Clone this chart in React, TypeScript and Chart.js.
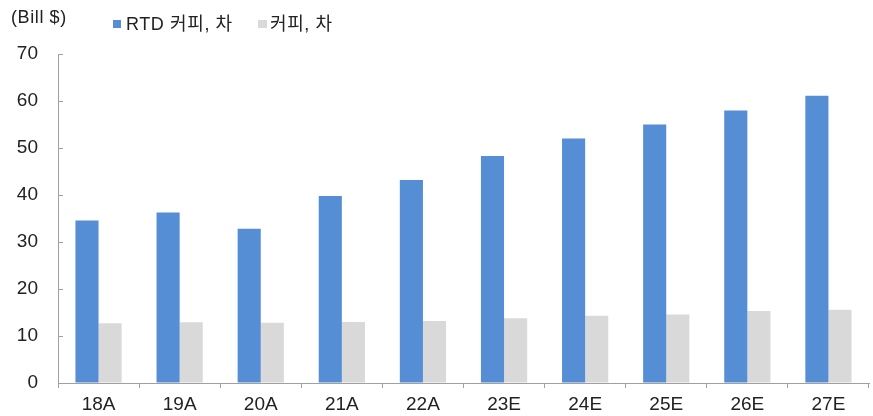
import React, { useEffect, useRef } from "react";
import { Chart, registerables } from "chart.js";

Chart.register(...registerables);

const categories = ["18A", "19A", "20A", "21A", "22A", "23E", "24E", "25E", "26E", "27E"];
const rtdValues = [34.6, 36.3, 32.8, 39.8, 43.2, 48.3, 52.0, 55.0, 58.0, 61.1];
const coffeeValues = [12.7, 12.9, 12.8, 13.0, 13.2, 13.8, 14.3, 14.6, 15.3, 15.6];
const seriesNames = ["RTD 커피, 차", "커피, 차"];
const yTicks = [0, 10, 20, 30, 40, 50, 60, 70];
const unitLabel = "(Bill $)";

const BLUE = "#558ED5";
const GRAY = "#D9D9D9";
const AXIS = "#A0A0A0";
const FONT = "'Liberation Sans', 'Noto Sans CJK KR', Arial, sans-serif";

const innerTicks = {
  id: "innerTicks",
  afterDraw(chart: any) {
    const y = chart.scales.y;
    const ctx = chart.ctx;
    ctx.save();
    ctx.strokeStyle = AXIS;
    ctx.lineWidth = 1;
    for (const v of yTicks) {
      const py = Math.round(y.getPixelForValue(v)) + 0.5;
      ctx.beginPath();
      ctx.moveTo(y.right, py);
      ctx.lineTo(y.right + 5, py);
      ctx.stroke();
    }
    ctx.restore();
  },
};

export default function App() {
  const ref = useRef<HTMLCanvasElement | null>(null);
  useEffect(() => {
    if (!ref.current) return;
    const chart = new Chart(ref.current, {
      type: "bar",
      data: {
        labels: categories,
        datasets: [
          { label: seriesNames[0], data: rtdValues, backgroundColor: BLUE, borderWidth: 0 },
          { label: seriesNames[1], data: coffeeValues, backgroundColor: GRAY, borderWidth: 0 },
        ],
      },
      options: {
        animation: false,
        responsive: false,
        maintainAspectRatio: false,
        layout: { padding: { top: 54, right: 4, bottom: 0, left: 0 } },
        datasets: { bar: { categoryPercentage: 0.57, barPercentage: 1.0 } },
        plugins: { legend: { display: false }, tooltip: { enabled: false }, title: { display: false } },
        scales: {
          x: {
            offset: true,
            grid: { offset: true, drawOnChartArea: false, drawTicks: true, tickLength: 5, color: AXIS },
            border: { color: AXIS, width: 1 },
            ticks: { color: "#222", font: { family: FONT, size: 19 }, padding: 5, maxRotation: 0 },
            afterFit(scale: any) { scale.height = 33; },
          },
          y: {
            min: 0,
            max: 70,
            afterBuildTicks(scale: any) { scale.ticks = yTicks.map((v) => ({ value: v })); },
            grid: { drawOnChartArea: false, drawTicks: false },
            border: { color: AXIS, width: 1 },
            ticks: { color: "#222", font: { family: FONT, size: 19 }, padding: 20 },
            afterFit(scale: any) { scale.width = 58; },
          },
        },
      },
      plugins: [innerTicks],
    });
    return () => chart.destroy();
  }, []);

  const legendText: React.CSSProperties = {
    fontFamily: FONT, fontSize: 18, color: "#222", whiteSpace: "nowrap", letterSpacing: 0.6, lineHeight: "20px",
  };
  return (
    <div style={{ position: "fixed", left: 0, top: 0, width: 873, height: 416, background: "#fff" }}>
      <canvas ref={ref} width={873} height={416} style={{ position: "absolute", left: 0, top: 0 }} />
      <div style={{ ...legendText, position: "absolute", left: 11, top: 7 }}>{unitLabel}</div>
      <span style={{ position: "absolute", left: 113, top: 20, width: 8, height: 8, background: BLUE }} />
      <div style={{ ...legendText, position: "absolute", left: 126, top: 14 }}>{seriesNames[0]}</div>
      <span style={{ position: "absolute", left: 258, top: 20, width: 9, height: 8, background: GRAY }} />
      <div style={{ ...legendText, position: "absolute", left: 270, top: 14 }}>{seriesNames[1]}</div>
    </div>
  );
}
